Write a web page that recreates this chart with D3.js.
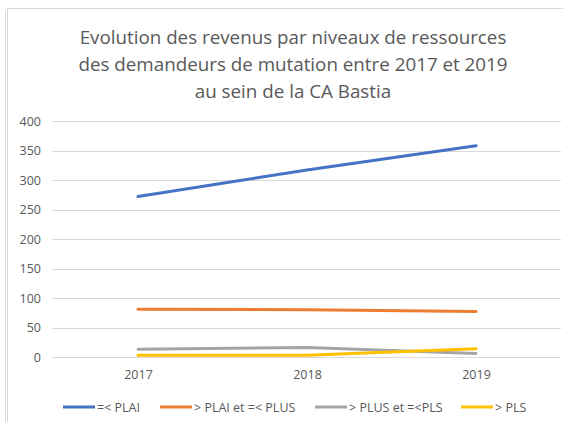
<!DOCTYPE html>
<html><head><meta charset="utf-8">
<script src="https://cdn.jsdelivr.net/npm/d3@7/dist/d3.min.js"></script>
<style>body{margin:0;background:#fff}svg{display:block}</style>
</head><body><svg id="c" width="563" height="422"></svg>
<script>
const categories = ["2017", "2018", "2019"];
const seriesNames = ["=< PLAI", "> PLAI et =< PLUS", "> PLUS et =<PLS", "> PLS"];
const plai = [272, 317, 358];
const plaiPlus = [81, 80, 77];
const plusPls = [13, 16, 6];
const pls = [3, 3, 14];
const yTicks = [0, 50, 100, 150, 200, 250, 300, 350, 400];
const titleLines = ["Evolution des revenus par niveaux de ressources", "des demandeurs de mutation entre 2017 et 2019", "au sein de la CA Bastia"];
const colors = ["#4472C4", "#ED7D31", "#A5A5A5", "#FFC000"];
const series = [plai, plaiPlus, plusPls, pls];

const svg = d3.select("#c");
const font = "'Open Sans', sans-serif";
// frame
svg.append("line").attr("x1",5.5).attr("x2",5.5).attr("y1",11).attr("y2",422).attr("stroke","#d9d9d9");
svg.append("rect").attr("x",7.5).attr("y",8.5).attr("width",600).attr("height",500).attr("fill","none").attr("stroke","#d9d9d9");

const x = d3.scalePoint().domain(categories).range([138, 476]);
const y = d3.scaleLinear().domain([0, 400]).range([357, 121]);

const grid = svg.append("g");
grid.selectAll("line").data(yTicks).join("line")
  .attr("x1", 52).attr("x2", 561)
  .attr("y1", d => Math.round(y(d)) + 0.5).attr("y2", d => Math.round(y(d)) + 0.5)
  .attr("stroke", "#d9d9d9").attr("stroke-width", 1);

const yAxis = svg.append("g").attr("transform", "translate(41,0)")
  .call(d3.axisLeft(y).tickValues(yTicks).tickSize(0).tickPadding(0));
yAxis.select(".domain").remove();
yAxis.selectAll("text").attr("fill", "#595959").style("font-family", font).style("font-size", "12.5px");

const xAxis = svg.append("g").attr("transform", "translate(0,368)")
  .call(d3.axisBottom(x).tickSize(0).tickPadding(2));
xAxis.select(".domain").remove();
xAxis.selectAll("text").attr("fill", "#595959").style("font-family", font).style("font-size", "12.5px");

const line = d3.line().x((d, i) => x(categories[i])).y(d => y(d));
svg.append("g").selectAll("path").data(series).join("path")
  .attr("d", d => line(d)).attr("fill", "none")
  .attr("stroke", (d, i) => colors[i]).attr("stroke-width", 3).attr("stroke-linecap", "round");

svg.append("g").selectAll("text").data(titleLines).join("text")
  .attr("x", 293).attr("y", (d, i) => 44 + i * 27)
  .attr("text-anchor", "middle").attr("fill", "#595959")
  .style("font-family", font).style("font-size", "18.8px").text(d => d);

const legX = [63, 160, 315, 461];
const leg = svg.append("g").selectAll("g").data(seriesNames).join("g")
  .attr("transform", (d, i) => `translate(${legX[i]},407)`);
leg.append("line").attr("x1", 0).attr("x2", 32).attr("stroke", (d, i) => colors[i]).attr("stroke-width", 3);
leg.append("text").attr("x", 34).attr("y", 4.5).attr("fill", "#595959")
  .style("font-family", font).style("font-size", "12.5px").text(d => d);
</script></body></html>
